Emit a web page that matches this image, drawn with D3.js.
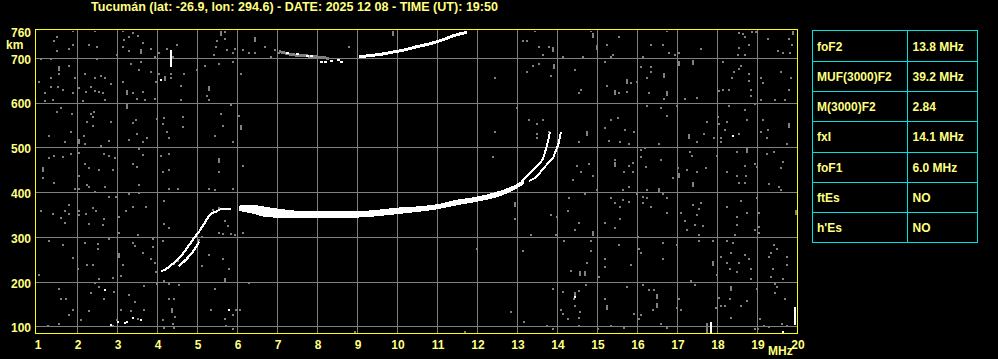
<!DOCTYPE html>
<html><head><meta charset="utf-8">
<script src="https://cdn.jsdelivr.net/npm/d3@7"></script>
<style>html,body{margin:0;padding:0;background:#000;overflow:hidden}svg{display:block}</style>
</head><body><svg id="c" width="998" height="359"></svg>
<script>
// ---------------- data ----------------
const titleText = "Tucumán (lat: -26.9, lon: 294.6) - DATE: 2025 12 08 - TIME (UT): 19:50";
const freqTicks = [1,2,3,4,5,6,7,8,9,10,11,12,13,14,15,16,17,18,19,20];
const heightTicks = [100,200,300,400,500,600,700,760];
const gridFreqs = [2,3,4,5,6,7,8,9,10,11,12,13,14,15,16,17,18,19];
const gridHeights = [100,200,300,400,500,600,700];
const paramNames = ["foF2","MUF(3000)F2","M(3000)F2","fxI","foF1","ftEs","h'Es"];
const paramValues = ["13.8 MHz","39.2 MHz","2.84","14.1 MHz","6.0 MHz","NO","NO"];

// F2 main echo band: [MHz, top km, bottom km]
const f2Band = [[6.05,370,360],[6.3,372,356],[6.8,366,346],[7.6,358,344],[8.5,357,344],[9.3,359,347],[10.1,366,354],[10.5,368,358],[11.0,373,364],[11.5,383,373],[12.0,390,381],[12.5,401,391],[12.9,414,406],[13.15,426,419]];
// F2 ordinary trace near foF2
const f2oCusp = [[13.1,424],[13.27,439],[13.39,450],[13.52,461],[13.63,473],[13.71,493],[13.79,521],[13.82,535]];
// F2 extraordinary trace near fxI
const f2xCusp = [[13.3,426],[13.43,432],[13.56,443],[13.66,454],[13.79,467],[13.89,476],[13.95,489],[14.04,510],[14.08,528],[14.1,535]];
// F1 ordinary trace
const f1o = [[4.1,224],[4.27,232],[4.43,244],[4.58,256],[4.71,271],[4.81,284],[4.93,299],[5.06,314],[5.18,331],[5.31,349],[5.48,358],[5.64,364],[5.85,364]];
// F1 extraordinary trace
const f1x = [[4.55,236],[4.73,251],[4.88,266],[4.98,279],[5.06,291]];
// second hop
const hop2Faint = [[7.05,715],[7.4,708],[7.8,705],[8.1,702],[8.3,700]];
const hop2Specks = [[7.25,712],[7.5,709],[7.75,705],[7.85,705],[8.1,692],[8.2,692],[8.35,693],[8.53,697],[8.6,692]];
const hop2 = [[9.05,703],[9.3,706],[9.6,709],[9.9,714],[10.2,719],[10.5,726],[10.8,732],[11.0,737],[11.2,743],[11.4,750],[11.55,754],[11.75,758]];
// isolated strong echoes
const whiteSpecks = [[4.1,651],[2.71,182],[2.84,105],[3.03,112],[3.2,110],[3.25,111],[3.39,121],[3.59,116],[5.79,137],[14.44,167],[18.39,526],[19.65,89]];
// vertical echo bars: [MHz, low km, high km, strong]
const echoBars = [[4.35,681,718,1],[17.85,87,112,1],[17.74,87,108,0],[19.95,104,145,1]];
// background noise
const noise = [[1.49,748],[1.43,739],[1.89,761],[2.46,761],[1.5,717],[1.79,721],[1.89,730],[2.29,730],[2.49,726],[3.14,761],[3.39,756],[3.52,750],[3.31,748],[3.18,741],[3.64,735],[3.16,726],[3.29,717],[3.85,721],[2.99,707],[3.96,703],[4.04,712],[4.25,721],[4.5,730],[4.39,703],[1.1,698],[1.35,698],[2.5,698],[1.79,683],[1.54,666],[2.2,665],[2.45,656],[2.6,660],[2.7,656],[2.85,642],[1.04,647],[1.35,656],[1.95,656],[2.04,634],[1.35,636],[1.52,635],[1.64,629],[1.2,622],[1.39,608],[1.2,604],[1.89,622],[2.23,625],[2.35,635],[2.45,627],[2.54,625],[2.64,622],[2.7,608],[2.14,604],[3.14,647],[3.39,622],[3.64,625],[3.5,609],[3.69,607],[3.94,609],[3.98,647],[4.04,666],[3.35,687],[3.6,692],[3.54,674],[3.85,670],[4.34,666],[4.34,656],[4.68,666],[4.6,638],[4.6,607],[4.99,674],[5.2,683],[5.54,687],[5.89,692],[6.09,665],[5.24,616],[5.29,607],[5.5,739],[5.71,759],[5.7,743],[5.48,726],[5.74,718],[5.43,707],[5.89,712],[5.95,721],[6.16,718],[6.29,712],[6.44,712],[6.69,726],[6.85,702],[6.96,718],[7.04,712],[8.79,726],
[1.6,589],[1.5,579],[1.88,575],[2.43,579],[2.35,575],[2.24,558],[2.41,568],[2.39,549],[2.85,558],[3.48,562],[3.39,555],[1.29,526],[1.85,535],[2.18,526],[2.21,509],[2.79,516],[2.6,504],[3.29,517],[3.49,531],[3.64,514],[3.74,521],[1.7,513],[3.99,564],[4.18,566],[4.14,553],[4.64,568],[4.64,547],[4.24,536],[4.29,521],[5.6,575],[5.85,596],[6.04,571],[5.64,549],[5.45,526],[5.91,514],[3.54,497],[3.64,484],[1.29,478],[1.43,482],[1.64,479],[1.85,486],[2.04,489],[2.04,438],[1.14,432],[2.21,464],[2.29,456],[2.54,450],[2.68,486],[2.79,482],[2.95,478],[2.91,450],[3.39,464],[3.49,458],[4.1,482],[4.29,486],[4.29,450],[4.14,446],[5.54,446],[6.14,459],
[13.45,761],[14.85,761],[15.54,748],[16.74,761],[18.54,756],[18.64,754],[18.71,748],[18.88,759],[18.98,759],[19.27,742],[19.79,744],[13.14,739],[13.24,739],[13.56,726],[13.79,726],[13.64,707],[14.14,702],[14.64,703],[15.24,730],[15.39,707],[15.35,703],[16.14,703],[16.35,730],[16.64,730],[16.81,712],[16.96,707],[17.04,712],[17.6,721],[18.54,724],[18.52,707],[18.71,707],[18.81,729],[19.52,717],[19.64,712],[19.83,712],[19.88,729],[12.44,657],[13.39,683],[13.56,687],[13.25,670],[13.85,661],[14.44,674],[14.59,629],[14.54,622],[15.2,692],[15.24,638],[15.56,622],[15.75,625],[15.85,645],[15.99,648],[16.1,681],[16.35,681],[16.35,670],[16.25,657],[16.68,609],[16.29,622],[17.21,609],[17.5,612],[18.14,692],[18.6,683],[18.54,675],[18.43,670],[18.37,657],[18.81,666],[18.79,650],[19.1,657],[19.16,644],[19.6,670],[19.85,657],[19.79,629],[18.04,627],[18.14,629],[18.29,629],[18.85,629],[18.85,616],[19.1,607],[19.45,607],[19.7,607],
[12.44,536],[13.0,589],[13.31,562],[13.64,562],[13.49,553],[13.49,531],[13.49,521],[13.81,536],[14.54,514],[15.2,544],[15.29,516],[15.52,566],[15.35,562],[15.69,540],[15.57,514],[15.79,509],[15.93,536],[16.24,593],[16.6,589],[16.74,571],[16.54,509],[16.99,593],[17.5,514],[17.68,531],[17.75,558],[17.93,522],[18.02,568],[18.06,553],[18.1,523],[18.1,514],[18.29,593],[18.24,558],[18.2,541],[18.54,531],[18.7,584],[18.75,562],[18.95,598],[19.1,536],[19.25,523],[19.14,562],[19.28,541],[19.74,509],[19.64,469],[19.6,456],[19.42,491],[19.25,486],[18.96,464],[19.0,458],[18.71,459],[18.49,491],[18.73,438],[18.49,438],[18.24,447],[18.0,482],[17.73,456],[17.5,447],[17.38,482],[17.33,491],[17.24,450],[17.03,454],[16.89,432],[16.6,473],[16.23,458],[16.1,479],[16.1,496],[16.2,499],[15.91,467],[15.81,459],[15.45,473],[15.68,447],[15.89,447],[14.89,438],[14.79,464],[14.6,447],[14.49,459],[14.39,428],[12.39,479],
[1.43,422],[1.96,409],[2.06,409],[2.24,418],[2.31,413],[2.46,401],[2.71,413],[2.79,391],[2.98,391],[3.29,396],[3.54,416],[3.54,400],[4.18,381],[4.31,409],[4.52,409],[5.29,409],[5.46,405],[5.89,409],[1.1,359],[1.39,352],[1.6,344],[1.71,358],[1.79,372],[1.79,352],[1.71,333],[2.06,358],[2.06,349],[2.22,352],[2.39,366],[2.48,358],[2.68,342],[2.64,327],[2.31,331],[3.04,346],[3.04,311],[3.22,358],[3.39,368],[3.52,306],[3.73,368],[4.18,329],[4.29,320],[4.14,291],[1.29,291],[1.64,284],[1.89,253],[2.02,230],[2.21,287],[2.25,239],[2.41,239],[2.52,286],[2.52,275],[2.79,296],[3.14,239],[3.41,287],[3.46,280],[3.66,266],[3.85,251],[3.89,279],[3.89,297],[3.96,244],[5.13,236],[5.31,261],[5.79,229],[5.64,251],[1.04,217],[2.54,208],[2.46,199],[2.91,209],[3.1,214],[3.68,191],[3.99,195],[4.18,203],[4.31,197],[4.56,194],[5.46,185],[6.29,199],[1.54,185],[2.35,177],[2.54,189],[2.93,178],[1.6,162],[1.72,162],[2.68,162],[4.29,162],[4.43,162],[4.46,122],[3.46,156],[3.31,171],[3.35,135],[3.1,139],[3.68,139],[1.89,139],[1.79,127],[1.54,107],[1.27,102],[2.1,115],[2.29,135],[2.89,102],[3.0,115],[3.52,117],[4.14,115],[4.39,107],[4.43,98],[4.18,98],[5.71,118],[5.98,137],[5.89,127],[6.08,139],[5.35,139],[5.72,102],[5.89,96],[8.96,89],[3.98,223],[4.42,241],[4.52,247],[4.85,289],[5.13,301],[5.06,294],[5.64,308],[5.85,308],[5.96,306],[6.14,311],[5.54,311],[5.77,325],[5.71,336],[5.4,362],[5.55,366],
[15.79,413],[15.66,405],[16.24,405],[18.54,422],[18.71,422],[19.29,420],[19.54,413],[19.6,405],[14.99,405],[14.7,396],[14.29,387],[14.27,360],[15.35,387],[15.46,378],[15.57,368],[15.64,383],[15.79,379],[15.99,396],[16.14,390],[16.24,387],[16.14,378],[16.35,368],[16.64,396],[16.74,387],[16.74,355],[17.39,373],[17.56,363],[17.6,378],[17.5,351],[17.21,336],[17.1,355],[17.25,316],[17.45,328],[17.64,325],[17.54,306],[18.24,368],[18.49,346],[18.6,381],[18.75,355],[18.49,328],[18.46,306],[18.99,387],[19.04,355],[19.04,323],[19.04,311],[18.96,316],[12.94,342],[13.35,306],[13.85,351],[13.99,346],[13.97,306],[14.54,333],[14.46,316],[15.2,333],[15.45,320],[15.58,342],[16.02,301],[11.99,274],[13.14,270],[14.18,292],[14.85,292],[14.85,270],[14.74,244],[14.35,224],[15.04,212],[15.2,251],[15.2,234],[15.54,284],[15.85,239],[16.04,275],[16.1,266],[16.64,287],[16.64,251],[16.99,284],[17.54,292],[17.89,292],[18.0,217],[18.24,292],[18.39,287],[18.1,256],[18.35,266],[18.24,244],[18.32,229],[18.49,223],[18.54,244],[18.71,261],[18.79,251],[18.85,229],[18.85,208],[19.29,256],[19.35,266],[19.42,282],[19.49,275],[19.39,229],[19.35,212],[19.74,256],[19.74,238],[19.64,208],[19.45,197],[19.49,189],[19.45,177],[19.7,162],[18.99,185],[18.74,157],[18.6,147],[18.35,120],[18.04,165],[18.1,147],[18.21,147],[18.33,162],[17.98,142],[17.35,202],[17.45,194],[17.06,162],[17.1,139],[16.99,142],[16.6,107],[16.74,98],[16.39,139],[16.29,182],[16.43,182],[16.14,194],[16.1,127],[16.06,117],[15.74,189],[15.93,130],[15.68,98],[15.35,102],[15.2,162],[15.02,95],[14.73,193],[14.56,180],[14.43,162],[14.44,147],[14.58,134],[14.54,120],[14.54,102],[14.27,118],[14.14,130],[14.1,139],[14.14,178],[13.89,184],[13.74,102],[13.89,95],[12.85,134],[13.18,111],[11.71,89],[19.08,117],[19.18,102],[19.29,100],[19.63,107],[19.74,102],[18.96,95],[19.02,95]];
const noiseTall = [[1.54,675],[3.6,715],[3.24,623],[4.21,653],[5.29,631],[5.6,754],[6.44,741],[9.89,754],[6.1,544],[5.54,471],[1.14,450],[3.24,592],[2.06,514],[14.89,750],[13.89,718],[14.99,722],[15.74,648],[16.68,661],[17.39,689],[17.04,687],[15.46,623],[13.93,681],[16.74,620],[14.74,532],[17.29,525],[19.79,548],[18.74,494],[17.06,437],[15.45,462],[5.71,202],[4.37,136],[3.04,259],[16.54,403],[12.94,372],[17.89,241],[16.49,167],[16.49,147],[15.24,142],[14.58,219],[14.7,219],[14.46,172],[17.39,416],[19.97,355],[18.35,184],[14.89,308],[19.89,756]];

// ---------------- drawing ----------------
const svg = d3.select("#c");
svg.append("rect").attr("width",998).attr("height",359).attr("fill","#000");
const W = 998, H = 359;
const x = d3.scaleLinear().domain([1,20]).range([37,797]);
const y = d3.scaleLinear().domain([86.6,763.2]).range([333,30]);
const plotL = 35, plotR = 797, plotT = 30, plotB = 333;
const FONT = "'Liberation Sans', Arial, sans-serif";
const TXT = "#ffff80";

// title
svg.append("text").attr("x",91).attr("y",10.5).attr("fill",TXT)
  .attr("font-family",FONT).attr("font-weight","bold").attr("font-size",12)
  .attr("textLength",407).attr("lengthAdjust","spacingAndGlyphs").text(titleText);

// grid
const grid = svg.append("g").attr("stroke","#808080").attr("stroke-width",1).attr("shape-rendering","crispEdges");
grid.selectAll("line.v").data(gridFreqs).join("line").attr("class","v")
  .attr("x1",d=>Math.round(x(d))+0.5).attr("x2",d=>Math.round(x(d))+0.5)
  .attr("y1",plotT).attr("y2",plotB);
grid.selectAll("line.h").data(gridHeights).join("line").attr("class","h")
  .attr("y1",d=>Math.floor(y(d))+0.5).attr("y2",d=>Math.floor(y(d))+0.5)
  .attr("x1",plotL).attr("x2",plotR);

// noise
const clip = svg.append("clipPath").attr("id","pc").append("rect")
  .attr("x",plotL+1).attr("y",plotT+1).attr("width",plotR-plotL-1).attr("height",plotB-plotT-1);
const P = svg.append("g").attr("clip-path","url(#pc)").attr("shape-rendering","crispEdges");
P.selectAll("rect.n").data(noise).join("rect").attr("class","n")
  .attr("x",d=>Math.round(x(d[0]))-1).attr("y",d=>Math.round(y(d[1]))-1)
  .attr("width",2).attr("height",2).attr("fill","#808080");
P.selectAll("rect.t").data(noiseTall).join("rect").attr("class","t")
  .attr("x",d=>Math.round(x(d[0]))-1).attr("y",d=>Math.round(y(d[1]))-3)
  .attr("width",2).attr("height",5).attr("fill","#808080");

// echo traces
const line = d3.line().x(d=>x(d[0])).y(d=>y(d[1])).curve(d3.curveMonotoneX);
const lineY = d3.line().x(d=>x(d[0])).y(d=>y(d[1])).curve(d3.curveMonotoneY);
P.append("path").datum(hop2Faint).attr("d",line).attr("fill","none").attr("stroke","#808080").attr("stroke-width",3);
P.selectAll("rect.hs").data(hop2Specks).join("rect").attr("class","hs")
  .attr("x",d=>Math.round(x(d[0]))-1).attr("y",d=>Math.round(y(d[1]))-1)
  .attr("width",3).attr("height",2).attr("fill","#fff");
P.append("path").datum(hop2).attr("d",line).attr("fill","none").attr("stroke","#fff").attr("stroke-width",3);

const area = d3.area().x(d=>x(d[0])).y0(d=>y(d[2])).y1(d=>y(d[1])).curve(d3.curveMonotoneX);
P.append("path").datum(f2Band).attr("d",area).attr("fill","#fff").attr("stroke","#fff").attr("stroke-width",1);
P.append("path").datum(f2oCusp).attr("d",lineY).attr("fill","none").attr("stroke","#fff").attr("stroke-width",2);
P.append("path").datum(f2xCusp).attr("d",lineY).attr("fill","none").attr("stroke","#fff").attr("stroke-width",2);
P.append("path").datum(f1o).attr("d",line).attr("fill","none").attr("stroke","#fff").attr("stroke-width",2.2);
P.append("path").datum(f1x).attr("d",line).attr("fill","none").attr("stroke","#fff").attr("stroke-width",2.2);

P.selectAll("rect.w").data(whiteSpecks).join("rect").attr("class","w")
  .attr("x",d=>Math.round(x(d[0]))-1).attr("y",d=>Math.round(y(d[1]))-1)
  .attr("width",2).attr("height",2).attr("fill","#fff");
P.selectAll("rect.b").data(echoBars).join("rect").attr("class","b")
  .attr("x",d=>Math.round(x(d[0]))-1).attr("y",d=>y(d[2]))
  .attr("width",2).attr("height",d=>y(d[1])-y(d[2]))
  .attr("fill",d=>d[3]?"#fff":"#808080");

// frame
svg.append("rect").attr("x",plotL+0.5).attr("y",plotT-0.5).attr("width",plotR-plotL).attr("height",plotB-plotT+0.5)
  .attr("fill","none").attr("stroke","#ffff00").attr("stroke-width",1).attr("shape-rendering","crispEdges");

// axes
const xAxis = d3.axisBottom(x).tickValues(freqTicks).tickSize(0).tickPadding(7.5).tickFormat(d3.format("d"));
const gx = svg.append("g").attr("transform",`translate(0.5,${plotB})`).call(xAxis);
const yAxis = d3.axisLeft(y).tickValues(heightTicks).tickSize(0).tickPadding(4).tickFormat(d3.format("d"));
const gy = svg.append("g").attr("transform",`translate(${plotL},0.5)`).call(yAxis);
[gx,gy].forEach(g=>{
  g.select(".domain").remove();
  g.selectAll("text").attr("fill",TXT).attr("font-family",FONT).attr("font-weight","bold").attr("font-size",12);
});
gy.selectAll("text").attr("dy","0.36em");
svg.append("text").attr("x",6).attr("y",49).attr("fill",TXT).attr("font-family",FONT)
  .attr("font-weight","bold").attr("font-size",12).text("km");
svg.append("text").attr("x",768).attr("y",355).attr("fill",TXT).attr("font-family",FONT)
  .attr("font-weight","bold").attr("font-size",12).text("MHz");

// parameter table
const tX0 = 812.5, tX1 = 907.5, tX2 = 977.5, tY0 = 30.5, rowH = (242 - 30) / paramNames.length;
const tb = svg.append("g").attr("shape-rendering","crispEdges");
tb.append("rect").attr("x",tX0).attr("y",tY0).attr("width",tX2-tX0).attr("height",rowH*paramNames.length)
  .attr("fill","#000").attr("stroke","#00e0e0");
tb.append("line").attr("x1",tX1).attr("x2",tX1).attr("y1",tY0).attr("y2",tY0+rowH*paramNames.length).attr("stroke","#00e0e0");
tb.selectAll("line.r").data(paramNames.slice(1)).join("line").attr("class","r")
  .attr("x1",tX0).attr("x2",tX2)
  .attr("y1",(d,i)=>Math.round(tY0+rowH*(i+1))+0.5).attr("y2",(d,i)=>Math.round(tY0+rowH*(i+1))+0.5)
  .attr("stroke","#00e0e0");
tb.selectAll("text.p").data(paramNames).join("text").attr("class","p")
  .attr("x",817).attr("y",(d,i)=>tY0+rowH*i+20).attr("fill",TXT).attr("font-family",FONT)
  .attr("font-weight","bold").attr("font-size",12).text(d=>d);
tb.selectAll("text.v").data(paramValues).join("text").attr("class","v")
  .attr("x",912.5).attr("y",(d,i)=>tY0+rowH*i+20).attr("fill",TXT).attr("font-family",FONT)
  .attr("font-weight","bold").attr("font-size",12).text(d=>d);
</script>
</body></html>
